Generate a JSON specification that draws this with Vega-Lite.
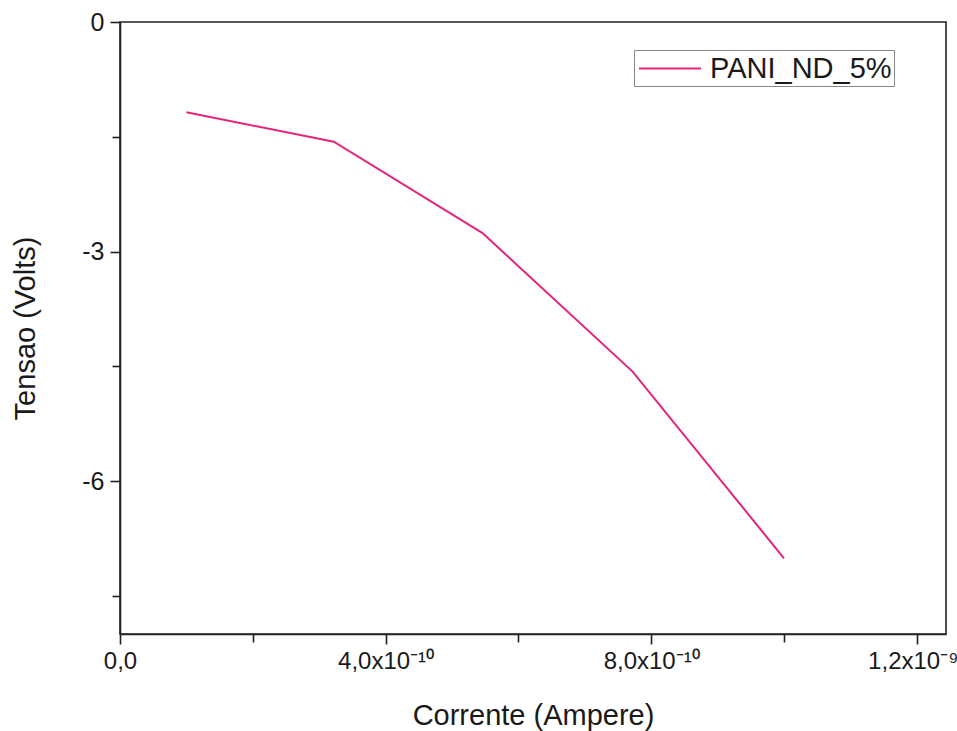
{
  "$schema": "https://vega.github.io/schema/vega-lite/v6.json",
  "width": 826,
  "height": 612,
  "autosize": {"type": "none"},
  "padding": {"left": 120, "top": 22, "right": 11, "bottom": 97},
  "background": "white",
  "config": {
    "font": "Liberation Sans",
    "view": {"stroke": "#222", "strokeWidth": 1.6},
    "axis": {"grid": false, "domainColor": "#222", "domainWidth": 1.6, "tickColor": "#222", "tickWidth": 1.6, "labelColor": "#1a1a1a", "titleColor": "#1a1a1a", "labelFont": "Liberation Sans", "titleFont": "Liberation Sans", "titleFontWeight": "normal"}
  },
  "data": {
    "values": [
      {"corrente": 1.0e-10, "tensao": -1.18, "serie": "PANI_ND_5%"},
      {"corrente": 3.22e-10, "tensao": -1.565, "serie": "PANI_ND_5%"},
      {"corrente": 5.46e-10, "tensao": -2.76, "serie": "PANI_ND_5%"},
      {"corrente": 7.72e-10, "tensao": -4.57, "serie": "PANI_ND_5%"},
      {"corrente": 1.0e-9, "tensao": -7.01, "serie": "PANI_ND_5%"}
    ]
  },
  "mark": {"type": "line", "strokeWidth": 2, "clip": true},
  "encoding": {
    "x": {
      "field": "corrente",
      "type": "quantitative",
      "scale": {"domain": [0, 1.244e-9], "nice": false, "zero": false},
      "axis": {
        "title": "Corrente (Ampere)",
        "titleFontSize": 29,
        "titlePadding": 28,
        "labelFontSize": 24,
        "labelPadding": 5,
        "values": [0, 2e-10, 4e-10, 6e-10, 8e-10, 1e-9, 1.2e-9],
        "tickSize": {"condition": {"test": "round(datum.value*1e11) % 40 == 0", "value": 10}, "value": 8},
        "labelOffset": {"condition": {"test": "round(datum.value*1e11) == 120", "value": -4}, "value": 0},
        "labelExpr": "round(datum.value*1e11) == 0 ? '0,0' : round(datum.value*1e11) == 40 ? '4,0x10⁻¹⁰' : round(datum.value*1e11) == 80 ? '8,0x10⁻¹⁰' : round(datum.value*1e11) == 120 ? '1,2x10⁻⁹' : ''",
        "labelFlush": false,
        "labelBound": false,
        "labelOverlap": false
      }
    },
    "y": {
      "field": "tensao",
      "type": "quantitative",
      "scale": {"domain": [-8, 0], "nice": false, "zero": false},
      "axis": {
        "title": "Tensao (Volts)",
        "titleFontSize": 29,
        "titlePadding": 41,
        "labelFontSize": 25,
        "labelPadding": 6,
        "values": [0, -1.5, -3, -4.5, -6, -7.5],
        "tickSize": {"condition": {"test": "round(datum.value*10) % 30 == 0", "value": 10}, "value": 8},
        "labelExpr": "round(datum.value*10) == 0 ? '0' : round(datum.value*10) == -30 ? '-3' : round(datum.value*10) == -60 ? '-6' : ''",
        "labelFlush": false,
        "labelOverlap": false
      }
    },
    "color": {
      "field": "serie",
      "type": "nominal",
      "scale": {"range": ["#e3267b"]},
      "legend": {
        "title": null,
        "orient": "none",
        "legendX": 514,
        "legendY": 28,
        "strokeColor": "#888",
        "padding": 2,
        "symbolType": "M-2,0H2",
        "symbolSize": 961,
        "symbolOffset": 17.5,
        "symbolStrokeWidth": 2,
        "labelOffset": 23.5,
        "labelLimit": 400,
        "labelFontSize": 29,
        "labelColor": "#1a1a1a",
        "labelFont": "Liberation Sans"
      }
    }
  }
}
